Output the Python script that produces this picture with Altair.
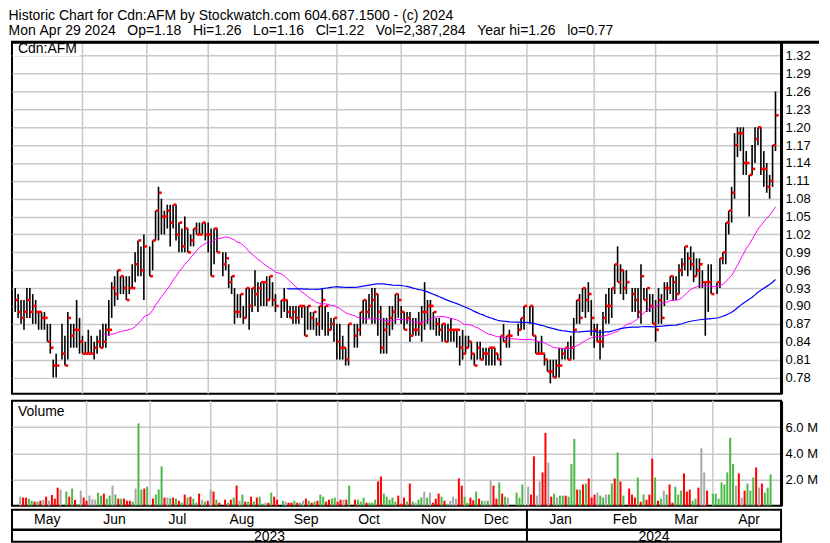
import altair as alt
import numpy as np
import pandas as pd

# ---------------- data ----------------
TITLE_LINE_1 = "Historic Chart for Cdn:AFM by Stockwatch.com 604.687.1500 - (c) 2024"
TITLE_LINE_2 = "Mon Apr 29 2024   Op=1.18   Hi=1.26   Lo=1.16   Cl=1.22   Vol=2,387,284   Year hi=1.26   lo=0.77"
SYMBOL = "Cdn:AFM"
VOLUME_LABEL = "Volume"

START, END = "2023-05-01", "2024-04-29"
HOLIDAYS = ["2023-05-22", "2023-07-03", "2023-08-07", "2023-09-04", "2023-10-09",
            "2023-12-25", "2023-12-26", "2024-01-01", "2024-02-19", "2024-03-29"]

HIGH = [
    .93, .92, .91, .91, .93, .93, .92, .91, .89, .89, .89, .87, .87, .81, .82,
    .87, .85, .89, .87, .87, .91, .88, .85, .84, .86, .85, .84, .85, .86, .87, .87, .91, .94, .95, .96, .95, .95, .95, .95, .97, .99, 1.01, 1.00, 1.02,
    1.00, 1.01, 1.06, 1.10, 1.08, 1.06, 1.07, 1.07, 1.07, 1.07, 1.04, 1.03, 1.05, 1.03, 1.02, 1.03, 1.04, 1.04, 1.04, 1.04, 1.04, 1.03, 1.03, 1.03,
    .99, .99, .97, .95, .93, .92, .92, .90, .93, .93, .93, .96, .94, .94, .94, .95, .95, .94, .92,
    .91, .93, .91, .90, .90, .90, .90, .90, .90, .90, .89, .89, .88, .90, .93, .90, .89, .88, .88, .87, .87, .85, .83, .87,
    .87, .87, .89, .91, .91, .92, .93, .93, .92, .90, .88, .88, .90, .90, .92, .92, .90, .89, .89, .89, .88, .88, .89, .90, .94, .91, .91, .89, .88, .88, .87, .87, .87, .88, .86, .86, .85, .86, .85, .85, .84, .82, .84, .84, .83, .83, .83, .83, .83, .82, .85, .87, .85, .86,
    .87, .88, .90,
    .90, .90, .85, .84, .85, .82, .81, .81, .81, .81, .83, .83, .83, .84, .85, .88, .91, .92, .93, .93, .94, .91, .87, .87, .86, .89, .92, .93, .93, .97, 1.00, .97, .96, .96,
    .93, .93, .93, .97, .93, .93, .92, .92, .91, .93, .92, .94, .94, .95, .95, .95, .97, .98, 1.00, .99, 1.00, .99, .98, .98, .96, .94, .97, .97,
    .94, .98, .99, 1.04, 1.06, 1.10, 1.19, 1.20, 1.20, 1.20, 1.16, 1.12, 1.17, 1.20, 1.20, 1.20, 1.16, 1.14, 1.12, 1.17, 1.26,
]
LOW = [
    .89, .88, .87, .86, .88, .88, .87, .87, .86, .86, .86, .84, .82, .78, .78,
    .81, .80, .81, .83, .83, .83, .82, .82, .82, .82, .82, .81, .82, .83, .83, .83, .85, .88, .90, .91, .92, .92, .91, .92, .93, .94, .95, .95, .91,
    .95, .96, 1.01, 1.01, 1.02, 1.02, 1.03, 1.00, 1.03, 1.01, .99, .99, .99, .99, 1.00, 1.00, 1.02, 1.02, 1.02, 1.01, .99, .95, .97, .99,
    .95, .96, .93, .92, .87, .88, .88, .87, .88, .86, .89, .90, .89, .90, .90, .90, .91, .90, .89,
    .88, .89, .88, .88, .87, .87, .87, .88, .85, .86, .86, .86, .85, .85, .86, .85, .85, .86, .84, .81, .81, .81, .80, .80,
    .83, .83, .85, .87, .87, .88, .87, .87, .85, .82, .82, .82, .85, .86, .87, .88, .87, .86, .87, .84, .85, .85, .85, .84, .86, .87, .86, .86, .85, .85, .84, .84, .84, .84, .84, .83, .80, .81, .82, .83, .81, .80, .81, .81, .81, .80, .80, .80, .80, .81, .80, .84, .83, .83,
    .85, .86, .86,
    .87, .85, .82, .82, .82, .80, .79, .77, .78, .78, .78, .81, .81, .81, .81, .81, .87, .87, .89, .88, .89, .85, .83, .84, .81, .83, .87, .87, .88, .92, .94, .92, .91, .92,
    .89, .89, .88, .87, .91, .89, .89, .87, .84, .87, .87, .90, .91, .92, .91, .91, .92, .95, .96, .95, .96, .94, .95, .93, .93, .85, .89, .92,
    .92, .93, .97, .97, 1.02, 1.04, 1.08, 1.15, 1.16, 1.12, 1.12, 1.05, 1.12, 1.14, 1.17, 1.12, 1.10, 1.09, 1.08, 1.10, 1.16,
]
CLOSE = [
    .91, .89, .88, .89, .91, .89, .90, .89, .89, .88, .88, .84, .83, .80, .80,
    .82, .80, .88, .85, .86, .86, .84, .82, .82, .82, .82, .83, .84, .83, .84, .86, .86, .93, .92, .96, .95, .93, .91, .93, .93, .97, 1.01, .96, 1.00,
    .95, 1.01, 1.06, 1.09, 1.05, 1.05, 1.06, 1.04, 1.07, 1.02, 1.04, 1.00, 1.03, .99, 1.01, 1.03, 1.02, 1.02, 1.04, 1.02, 1.02, .95, 1.03, .99,
    .97, .98, .94, .95, .89, .89, .92, .88, .93, .90, .93, .92, .93, .94, .94, .91, .95, .91, .90,
    .91, .91, .89, .88, .89, .88, .90, .90, .85, .90, .88, .89, .87, .90, .91, .90, .86, .87, .88, .84, .83, .83, .81, .87,
    .85, .86, .89, .91, .89, .90, .91, .92, .89, .83, .86, .87, .88, .89, .92, .91, .89, .86, .88, .85, .86, .86, .87, .89, .89, .90, .90, .89, .87, .86, .87, .84, .86, .86, .86, .86, .83, .82, .83, .84, .82, .80, .83, .81, .82, .82, .83, .83, .82, .81, .85, .84, .85, .85,
    .86, .88, .90,
    .90, .85, .82, .82, .82, .81, .79, .79, .78, .80, .80, .82, .83, .81, .83, .86, .91, .88, .93, .91, .92, .88, .86, .84, .84, .88, .90, .90, .93, .97, .94, .96, .93, .94,
    .92, .91, .89, .95, .91, .93, .90, .87, .86, .91, .88, .93, .93, .95, .94, .92, .96, .97, 1.00, .98, .97, .95, .96, .97, .94, .94, .94, .92,
    .94, .98, .99, 1.04, 1.06, 1.09, 1.17, 1.19, 1.19, 1.14, 1.14, 1.12, 1.13, 1.18, 1.20, 1.13, 1.13, 1.10, 1.11, 1.17, 1.22,
]
VOLUME_M = [
    .69, .62, .62, .54, .38, .31, .31, .38, .44, .69, .38, .82, .54, 1.38, 1.23,
    1.08, .69, 1.31, .44, .13, 1.15, .62, .38, .77, .51, .46, 1.0, .77, .92, .54, .77, 1.54, .85, .54, .54, .54, .38, .38, .31, 1.31, 6.28, 1.23, 1.31, 1.46,
    .54, .85, 1.23, 3.0, .62, .62, .58, .62, .54, .38, .23, .85, .62, .69, .54, .23, .92, .46, .31, .38, 1.23, 1.08, .46, .23,
    .46, .23, .46, .62, 1.54, .38, .85, .31, .31, .69, .31, .62, .69, .15, .23, .23, 1.0, .69, .46,
    .38, .31, .23, .23, .38, .23, .23, .38, .54, .38, .23, .31, .38, .85, .69, .31, .46, .54, .62, .31, .46, .46, .46, 1.54,
    .46, .46, .31, .62, .23, .23, .23, .46, 1.85, 2.23, .92, .69, .46, .62, .31, .77, .15, .62, .31, 1.69, .31, .23, .46, .62, 1.08, .62, 1.0, .23, .54, .92, .69, .38, .15, .38, .69, .54, 2.08, 1.54, .69, .23, .62, .42, 1.08, .54, .38, .38, .38, 1.92, 1.54, .54, 1.77, .92, .69, .62,
    1.0, .62, 1.62,
    1.46, .85, 3.77, .77, 1.85, 2.54, 5.56, 3.28, .69, .92, .62, .77, .77, .77, .69, 3.18, 5.1, 1.23, 1.23, 1.62, 1.69, 2.08, .62, .85, 1.0, .77, .62, .85, .85, 1.69, 2.08, 4.05, 1.85, .77,
    1.31, .85, .62, 2.15, .31, .85, .46, .85, 3.59, 2.15, .38, .54, 1.15, .85, 1.62, .23, 1.46, .85, 1.15, 2.46, 1.08, 1.23, .38, .54, 1.38, 4.38, 2.54, 1.15,
    .92, .92, .54, 1.77, 1.62, 2.54, 5.18, 3.18, 1.54, 2.46, .62, 1.15, 1.69, 1.15, 2.15, 2.92, 1.38, 1.69, 1.0, 1.38, 2.39,
]

MONTH_LABELS = ["May", "Jun", "Jul", "Aug", "Sep", "Oct", "Nov", "Dec", "Jan", "Feb", "Mar", "Apr"]
YEAR_LABELS = ["2023", "2024"]
PRICE_TICKS = [0.78, 0.81, 0.84, 0.87, 0.90, 0.93, 0.96, 0.99, 1.02, 1.05, 1.08,
               1.11, 1.14, 1.17, 1.20, 1.23, 1.26, 1.29, 1.32]
VOLUME_TICKS = [2, 4, 6]
MA_SHORT, MA_LONG = 30, 90

# ---------------- table building ----------------
weekdays = pd.bdate_range(START, END)
pos = {d.strftime("%Y-%m-%d"): k for k, d in enumerate(weekdays)}
trade_days = [d.strftime("%Y-%m-%d") for d in weekdays if d.strftime("%Y-%m-%d") not in HOLIDAYS]
assert len(trade_days) == len(HIGH) == len(LOW) == len(CLOSE) == len(VOLUME_M), (
    len(trade_days), len(HIGH), len(LOW), len(CLOSE), len(VOLUME_M))

df = pd.DataFrame({"i": [pos[d] for d in trade_days], "high": HIGH, "low": LOW,
                   "close": CLOSE, "vol": VOLUME_M})
prev = df["close"].shift(1)
df["dir"] = np.where(prev.isna(), "flat",
                     np.where(df["close"] > prev + 1e-9, "up",
                              np.where(df["close"] < prev - 1e-9, "down", "flat")))

X_MIN, X_MAX = -1.1, len(weekdays) + 0.9
month_keys = sorted({d.strftime("%Y-%m") for d in weekdays})
month_start = [min(k for k, d in enumerate(weekdays) if d.strftime("%Y-%m") == m) for m in month_keys]
edges = [X_MIN] + month_start[1:] + [X_MAX]
month_df = pd.DataFrame({"pos": month_start[1:]})
mlab_df = pd.DataFrame({"label": MONTH_LABELS,
                        "mid": [(edges[k] + edges[k + 1]) / 2 for k in range(len(MONTH_LABELS))]})
jan = month_start[month_keys.index("2024-01")]
ylab_df = pd.DataFrame({"label": YEAR_LABELS, "mid": [(X_MIN + jan) / 2, (jan + X_MAX) / 2]})
jan_df = pd.DataFrame({"pos": [jan]})

# ---------------- chart ----------------
FONT = "Liberation Sans"
W, PH, VH, BH = 770, 352, 105, 32
GRID = "#c8c8c8"
XS = alt.Scale(domain=[X_MIN, X_MAX], nice=False, zero=False)
X_I = alt.X("i:Q", scale=XS, axis=None)
PS = alt.Scale(domain=[0.7525, 1.3426], nice=False, zero=False)
P_AXIS = alt.Axis(orient="right", values=PRICE_TICKS, format=".2f", grid=True, gridColor=GRID,
                  gridWidth=1.5, ticks=False, domainColor="black", domainWidth=3, labelFont=FONT,
                  labelFontSize=13, labelColor="black", labelPadding=4, labelOverlap=False, title=None)
VS = alt.Scale(domain=[0, 8], nice=False, zero=True)
V_AXIS = alt.Axis(orient="right", values=VOLUME_TICKS,
                  labelExpr="format(datum.value, '.1f') + ' M'", grid=True, gridColor=GRID,
                  gridWidth=1.5, ticks=False, domainColor="black", domainWidth=3, labelFont=FONT,
                  labelFontSize=13, labelColor="black", labelPadding=4, labelOverlap=False, title=None)

base = alt.Chart(df)
mgrid = alt.Chart(month_df).mark_rule(color=GRID, strokeWidth=1.5).encode(
    x=alt.X("pos:Q", scale=XS, axis=None))

hl = base.mark_rule(color="black", strokeWidth=1.6).encode(
    x=X_I, y=alt.Y("low:Q", scale=PS, axis=P_AXIS), y2="high:Q")
cl = base.transform_calculate(t0="datum.i + 0.1", t1="datum.i + 1.1").mark_rule(
    color="#ff0000", strokeWidth=2.6).encode(
    x=alt.X("t0:Q", scale=XS, axis=None), x2="t1:Q", y=alt.Y("close:Q", scale=PS, axis=P_AXIS))

ma_base = base.transform_window(
    ma_s="mean(close)", n_s="count()", frame=[-(MA_SHORT - 1), 0], sort=[alt.SortField("i")]
).transform_window(
    ma_l="mean(close)", n_l="count()", frame=[-(MA_LONG - 1), 0], sort=[alt.SortField("i")])
ma_s = ma_base.transform_filter(f"datum.n_s >= {MA_SHORT}").mark_line(
    color="#ff00ff", strokeWidth=1).encode(x=X_I, y=alt.Y("ma_s:Q", scale=PS, axis=P_AXIS))
ma_l = ma_base.transform_filter(f"datum.n_l >= {MA_LONG}").mark_line(
    color="#0000ff", strokeWidth=1.2).encode(x=X_I, y=alt.Y("ma_l:Q", scale=PS, axis=P_AXIS))

sym_df = pd.DataFrame({"t": [SYMBOL]})
sym_bg = alt.Chart(sym_df).mark_rect(color="white").encode(
    x=alt.value(1), x2=alt.value(68), y=alt.value(1), y2=alt.value(14))
sym = alt.Chart(sym_df).mark_text(align="left", baseline="middle", font=FONT, fontSize=14,
                                  color="black").encode(x=alt.value(6), y=alt.value(7), text="t:N")
top_rule = alt.Chart(sym_df).mark_rule(color="black", strokeWidth=3).encode(
    x=alt.value(-1), x2=alt.value(W + 38), y=alt.value(0))

price = alt.layer(mgrid, hl, cl, ma_s, ma_l, sym_bg, sym, top_rule).properties(width=W, height=PH)

vbars = base.mark_bar(size=2).encode(
    x=X_I, y=alt.Y("vol:Q", scale=VS, axis=V_AXIS),
    color=alt.Color("dir:N", scale=alt.Scale(domain=["up", "down", "flat"],
                                             range=["#4cb847", "#ff0000", "#a8a8a8"]), legend=None))
vlab = alt.Chart(pd.DataFrame({"t": [VOLUME_LABEL]})).mark_text(
    align="left", baseline="middle", font=FONT, fontSize=14, color="black").encode(
    x=alt.value(6), y=alt.value(11), text="t:N")
volume = alt.layer(mgrid, vbars, vlab).properties(width=W, height=VH)

mtext = alt.Chart(mlab_df).mark_text(font=FONT, fontSize=14, color="black", baseline="middle").encode(
    x=alt.X("mid:Q", scale=XS, axis=None), y=alt.value(10), text="label:N")
ytext = alt.Chart(ylab_df).mark_text(font=FONT, fontSize=14, color="black", baseline="middle").encode(
    x=alt.X("mid:Q", scale=XS, axis=None), y=alt.value(27), text="label:N")
hline = alt.Chart(sym_df).mark_rule(color="black", strokeWidth=2.5).encode(
    x=alt.value(0), x2=alt.value(W), y=alt.value(20))
vline = alt.Chart(jan_df).mark_rule(color="black", strokeWidth=2).encode(
    x=alt.X("pos:Q", scale=XS, axis=None), y=alt.value(0), y2=alt.value(BH))
bottom = alt.layer(mtext, ytext, hline, vline).properties(width=W, height=BH)

chart = alt.vconcat(
    alt.vconcat(price, volume, spacing=3), bottom, spacing=0
).properties(
    title=alt.TitleParams(text=[TITLE_LINE_1, TITLE_LINE_2.replace(" ", "\u00a0")], anchor="start",
                          font=FONT, fontSize=14, fontWeight="normal", color="black",
                          lineHeight=15, offset=2),
    padding={"left": 0, "right": 0, "top": 0, "bottom": 0},
    background="white",
).configure_view(stroke="black", strokeWidth=2)

chart.save("out.html", embed_options={"renderer": "svg", "actions": False})
